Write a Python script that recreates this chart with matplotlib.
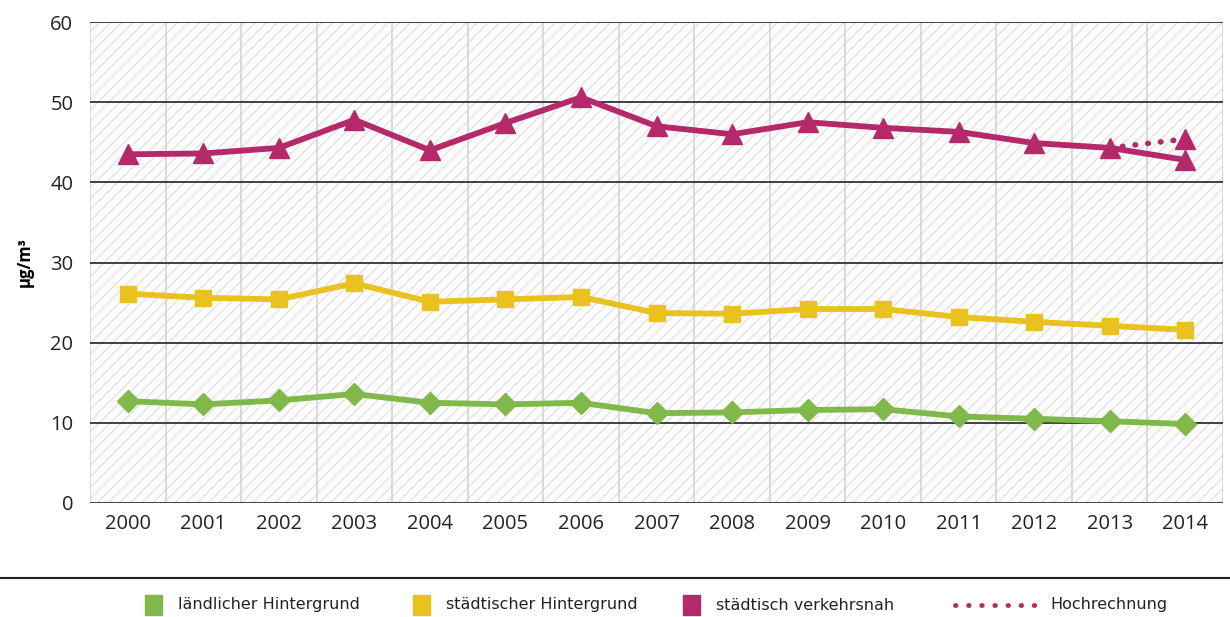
import matplotlib
matplotlib.use('Agg')
import matplotlib.pyplot as plt
import numpy as np

plt.rcParams['font.family'] = ['Open Sans', 'DejaVu Sans']
plt.rcParams['hatch.color'] = '#e4e4e4'
plt.rcParams['hatch.linewidth'] = 1.0

years = ['2000', '2001', '2002', '2003', '2004', '2005', '2006', '2007',
         '2008', '2009', '2010', '2011', '2012', '2013', '2014']
laendlich = [12.7, 12.3, 12.8, 13.6, 12.5, 12.3, 12.5, 11.2, 11.3, 11.6, 11.7, 10.8, 10.5, 10.2, 9.85]
staedtisch = [26.1, 25.6, 25.4, 27.4, 25.1, 25.4, 25.7, 23.7, 23.6, 24.2, 24.2, 23.2, 22.6, 22.1, 21.6]
verkehr = [43.5, 43.6, 44.3, 47.8, 44.0, 47.4, 50.6, 47.0, 46.0, 47.5, 46.8, 46.3, 44.9, 44.3, 42.8]
hoch_years = ['2013', '2014']
hoch = [44.3, 45.4]
yticks = [0, 10, 20, 30, 40, 50, 60]

green = '#80b84a'
yellow = '#e9c21f'
magenta = '#b5286a'

fig = plt.figure(figsize=(12.3, 6.17), dpi=100)
ax = fig.add_axes([0.0732, 0.1848, 0.9211, 0.7795])

x = np.arange(len(years))
ax.set_xlim(-0.5, len(years) - 0.5)
ax.set_ylim(0, 60)

# hatched background
ax.patch.set_facecolor('white')
ax.fill_between([-0.5, len(years) - 0.5], 0, 60, facecolor='#fcfcfc',
                edgecolor='#e4e4e4', hatch='///', linewidth=0, zorder=0)

# grid
for xv in np.arange(-0.5, len(years), 1.0):
    ax.axvline(xv, color='#d4d4d4', lw=1.2, zorder=1)
for yv in yticks:
    ax.axhline(yv, color='#222222', lw=1.2, zorder=2)

hx = [years.index(h) for h in hoch_years]
ax.plot(hx, hoch, ls=(0, (0.1, 2.2)), dash_capstyle='round', color=magenta,
        lw=4, zorder=3)
ax.plot(hx[-1], hoch[-1], marker='^', ms=15, color=magenta, ls='none', zorder=4)

ax.plot(x, laendlich, color=green, lw=4.2, marker='D', ms=11, zorder=4)
ax.plot(x, staedtisch, color=yellow, lw=4.2, marker='s', ms=11, zorder=4)
ax.plot(x, verkehr, color=magenta, lw=4.2, marker='^', ms=14, zorder=4)

for s in ax.spines.values():
    s.set_visible(False)
ax.set_xticks(x)
ax.set_xticklabels(years, fontsize=14.5, color='#222222')
ax.set_yticks(yticks)
ax.set_yticklabels([str(v) for v in yticks], fontsize=14.5, color='#222222')
ax.tick_params(length=0, pad=8)
ax.tick_params(axis='y', pad=12)
ax.set_ylabel('µg/m³', fontsize=12, fontweight='bold', labelpad=12)

# legend area
fig.add_artist(plt.Line2D([0, 1], [1 - 578 / 617, 1 - 578 / 617], color='#222222', lw=1.5))
ly = 1 - 605 / 617
items = [(145, green, 'ländlicher Hintergrund'),
         (413, yellow, 'städtischer Hintergrund'),
         (683, magenta, 'städtisch verkehrsnah')]
for px, c, lab in items:
    fig.patches.append(plt.Rectangle((px / 1230, ly - 0.016), 17 / 1230, 0.032,
                                     color=c, transform=fig.transFigure, figure=fig))
    fig.text((px + 33) / 1230, ly, lab, fontsize=11.5, va='center',
             family=['Liberation Sans Narrow', 'DejaVu Sans'], color='#222222')
fig.add_artist(plt.Line2D([955 / 1230, 1035 / 1230], [ly, ly], color=magenta, lw=3.5,
                          ls=(0, (0.1, 2.6)), dash_capstyle='round'))
fig.text(1050 / 1230, ly, 'Hochrechnung', fontsize=11.5, va='center',
         family=['Liberation Sans Narrow', 'DejaVu Sans'], color='#222222')

fig.savefig('out.png', dpi=100)
